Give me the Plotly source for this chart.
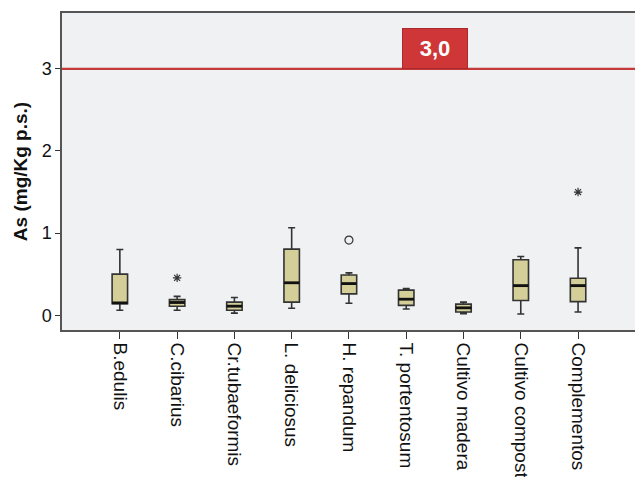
import plotly.graph_objects as go

categories = ["B.edulis", "C.cibarius", "Cr.tubaeformis", "L. deliciosus", "H. repandum",
              "T. portentosum", "Cultivo madera", "Cultivo compost", "Complementos"]
lower = [0.06, 0.06, 0.025, 0.085, 0.145, 0.075, 0.02, 0.015, 0.04]
q1 = [0.14, 0.11, 0.06, 0.16, 0.26, 0.12, 0.04, 0.18, 0.165]
median = [0.15, 0.155, 0.11, 0.395, 0.385, 0.195, 0.09, 0.36, 0.36]
q3 = [0.50, 0.19, 0.16, 0.805, 0.49, 0.305, 0.135, 0.675, 0.45]
upper = [0.80, 0.23, 0.215, 1.065, 0.515, 0.325, 0.16, 0.715, 0.82]
outlier_cat = [1, 8, 4]
outlier_val = [0.455, 1.50, 0.915]
outlier_kind = ["extreme", "extreme", "outlier"]
limit_value = 3.0
limit_label = "3,0"
y_ticks = [0, 1, 2, 3]

box_w = 0.27
xs = list(range(len(categories)))

fig = go.Figure()
fig.add_trace(go.Box(
    x=xs, q1=q1, median=median, q3=q3, lowerfence=lower, upperfence=upper,
    width=box_w, whiskerwidth=0.45,
    fillcolor="#D4CF98", line=dict(color="#333333", width=1.6),
    boxpoints=False, showlegend=False, hoverinfo="skip"))

# thicker median bars
mx, my = [], []
for i, m in zip(xs, median):
    mx += [i - box_w / 2, i + box_w / 2, None]
    my += [m, m, None]
fig.add_trace(go.Scatter(x=mx, y=my, mode="lines", line=dict(color="#111", width=2.8),
                         showlegend=False, hoverinfo="skip"))

for kind, sym, sz in [("extreme", "asterisk-open", 7), ("outlier", "circle-open", 8)]:
    fig.add_trace(go.Scatter(
        x=[c for c, k in zip(outlier_cat, outlier_kind) if k == kind],
        y=[v for v, k in zip(outlier_val, outlier_kind) if k == kind],
        mode="markers", marker=dict(symbol=sym, size=sz, color="#333",
                                    line=dict(color="#333", width=1.2)),
        showlegend=False, hoverinfo="skip"))

fig.add_hline(y=limit_value, line=dict(color="#C43A3A", width=2.2))
fig.add_annotation(x=5.5, y=limit_value, xref="x", yref="y", text="<b>" + limit_label + "</b>",
                   showarrow=False, yanchor="bottom", yshift=0,
                   font=dict(family="Liberation Sans, Arial", size=22, color="white"),
                   bgcolor="#CF3638", bordercolor="#A82A2C", borderwidth=1,
                   width=62, height=37)

fig.update_layout(
    width=680, height=477,
    margin=dict(l=62, r=0, t=13, b=147, autoexpand=False),
    paper_bgcolor="white", plot_bgcolor="#EFF1F3",
    font=dict(family="Liberation Sans, Arial", color="#111"),
    xaxis=dict(range=[-1.01, 9.78], tickmode="array", tickvals=xs, ticktext=categories,
               tickangle=90, tickfont=dict(size=19), ticks="outside", ticklen=7,
               tickcolor="#333", showline=True, linecolor="#555", linewidth=1.5,
               mirror=True, showgrid=False, zeroline=False, automargin=False),
    yaxis=dict(range=[-0.18, 3.68], tickvals=y_ticks, tickfont=dict(size=18),
               ticks="outside", ticklen=5, tickcolor="#333", showline=True,
               linecolor="#555", linewidth=1.5, showgrid=False, zeroline=False,
               automargin=False,
               title=dict(text="<b>As (mg/Kg p.s.)</b>", font=dict(size=19), standoff=9)),
)

fig.write_html("out.html",
               config={"displayModeBar": False},
               post_script="document.documentElement.style.margin='0';"
                           "document.body.style.margin='0';"
                           "document.documentElement.style.overflow='hidden';"
                           "document.body.style.overflow='hidden';")
